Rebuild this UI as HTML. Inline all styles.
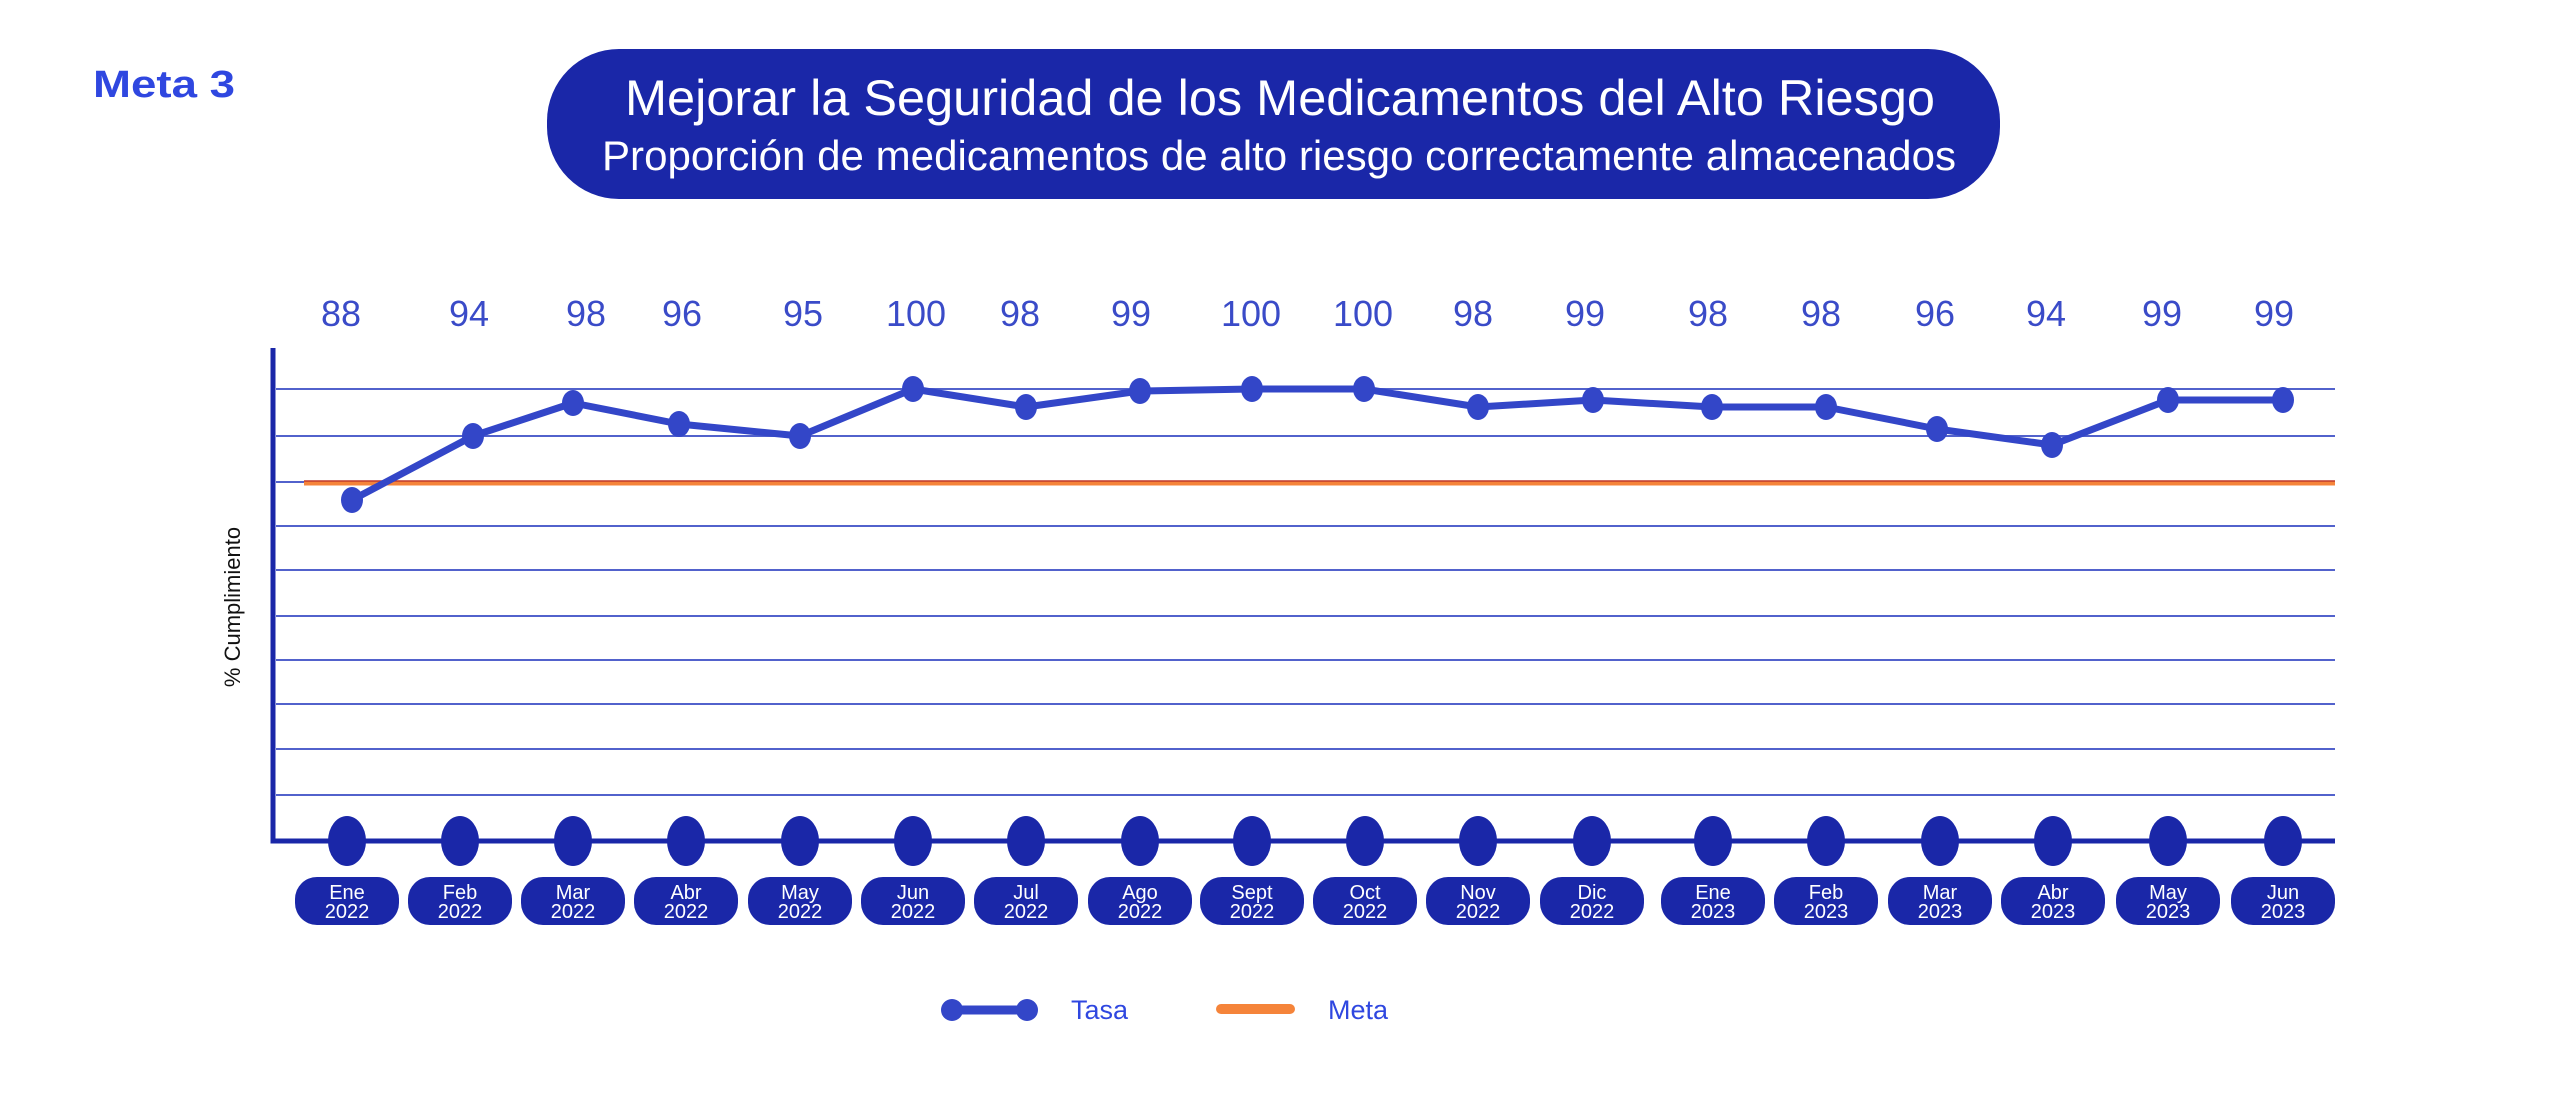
<!DOCTYPE html>
<html><head><meta charset="utf-8"><style>
html,body{margin:0;padding:0;background:#fff;}
svg{display:block;}
text{font-family:"Liberation Sans",sans-serif;}
</style></head><body>
<svg width="2560" height="1104" viewBox="0 0 2560 1104" xmlns="http://www.w3.org/2000/svg">
<rect width="2560" height="1104" fill="#fff"/>
<text x="93" y="97" font-size="38" font-weight="bold" fill="#2f47e0" textLength="142" lengthAdjust="spacingAndGlyphs">Meta 3</text>
<rect x="547" y="49" width="1453" height="150" rx="72" fill="#1a27a8"/>
<text x="1280" y="115" font-size="50" fill="#fff" text-anchor="middle" textLength="1310" lengthAdjust="spacingAndGlyphs">Mejorar la Seguridad de los Medicamentos del Alto Riesgo</text>
<text x="1279" y="170" font-size="42" fill="#fff" text-anchor="middle" textLength="1354" lengthAdjust="spacingAndGlyphs">Proporción de medicamentos de alto riesgo correctamente almacenados</text>
<g stroke="#5262cc" stroke-width="2">
<line x1="276" y1="389" x2="2335" y2="389"/><line x1="276" y1="436" x2="2335" y2="436"/>
<line x1="276" y1="482" x2="2335" y2="482"/><line x1="276" y1="526" x2="2335" y2="526"/>
<line x1="276" y1="570" x2="2335" y2="570"/><line x1="276" y1="616" x2="2335" y2="616"/>
<line x1="276" y1="660" x2="2335" y2="660"/><line x1="276" y1="704" x2="2335" y2="704"/>
<line x1="276" y1="749" x2="2335" y2="749"/><line x1="276" y1="795" x2="2335" y2="795"/>
</g>
<line x1="304" y1="483" x2="2335" y2="483" stroke="#f5843a" stroke-width="5"/>
<line x1="304" y1="481" x2="2335" y2="481" stroke="#c0392b" stroke-width="1.5"/>
<path d="M273 348 V841 H2335" fill="none" stroke="#1a27a8" stroke-width="5"/>
<text transform="translate(240,607) rotate(-90)" font-size="22" fill="#111" text-anchor="middle">% Cumplimiento</text>
<g font-size="36" fill="#3a4bc8" text-anchor="middle">
<text x="341" y="326">88</text><text x="469" y="326">94</text><text x="586" y="326">98</text><text x="682" y="326">96</text><text x="803" y="326">95</text><text x="916" y="326">100</text><text x="1020" y="326">98</text><text x="1131" y="326">99</text><text x="1251" y="326">100</text><text x="1363" y="326">100</text><text x="1473" y="326">98</text><text x="1585" y="326">99</text><text x="1708" y="326">98</text><text x="1821" y="326">98</text><text x="1935" y="326">96</text><text x="2046" y="326">94</text><text x="2162" y="326">99</text><text x="2274" y="326">99</text>
</g>
<polyline fill="none" stroke="#3346c8" stroke-width="7" stroke-linejoin="round" points="352,500 473,436 573,403 679,424 800,436 913,389 1026,407 1140,391 1252,389 1364,389 1478,407 1593,400 1712,407 1826,407 1937,429 2052,445 2168,400 2283,400"/>
<g fill="#3346c8">
<ellipse cx="352" cy="500" rx="11" ry="13"/><ellipse cx="473" cy="436" rx="11" ry="13"/><ellipse cx="573" cy="403" rx="11" ry="13"/><ellipse cx="679" cy="424" rx="11" ry="13"/><ellipse cx="800" cy="436" rx="11" ry="13"/><ellipse cx="913" cy="389" rx="11" ry="13"/><ellipse cx="1026" cy="407" rx="11" ry="13"/><ellipse cx="1140" cy="391" rx="11" ry="13"/><ellipse cx="1252" cy="389" rx="11" ry="13"/><ellipse cx="1364" cy="389" rx="11" ry="13"/><ellipse cx="1478" cy="407" rx="11" ry="13"/><ellipse cx="1593" cy="400" rx="11" ry="13"/><ellipse cx="1712" cy="407" rx="11" ry="13"/><ellipse cx="1826" cy="407" rx="11" ry="13"/><ellipse cx="1937" cy="429" rx="11" ry="13"/><ellipse cx="2052" cy="445" rx="11" ry="13"/><ellipse cx="2168" cy="400" rx="11" ry="13"/><ellipse cx="2283" cy="400" rx="11" ry="13"/>
</g>
<g fill="#1a27a8">
<ellipse cx="347" cy="841" rx="19" ry="25"/><ellipse cx="460" cy="841" rx="19" ry="25"/><ellipse cx="573" cy="841" rx="19" ry="25"/><ellipse cx="686" cy="841" rx="19" ry="25"/><ellipse cx="800" cy="841" rx="19" ry="25"/><ellipse cx="913" cy="841" rx="19" ry="25"/><ellipse cx="1026" cy="841" rx="19" ry="25"/><ellipse cx="1140" cy="841" rx="19" ry="25"/><ellipse cx="1252" cy="841" rx="19" ry="25"/><ellipse cx="1365" cy="841" rx="19" ry="25"/><ellipse cx="1478" cy="841" rx="19" ry="25"/><ellipse cx="1592" cy="841" rx="19" ry="25"/><ellipse cx="1713" cy="841" rx="19" ry="25"/><ellipse cx="1826" cy="841" rx="19" ry="25"/><ellipse cx="1940" cy="841" rx="19" ry="25"/><ellipse cx="2053" cy="841" rx="19" ry="25"/><ellipse cx="2168" cy="841" rx="19" ry="25"/><ellipse cx="2283" cy="841" rx="19" ry="25"/>
</g>
<g fill="#1a27a8">
<rect x="295" y="877" width="104" height="48" rx="22"/><rect x="408" y="877" width="104" height="48" rx="22"/><rect x="521" y="877" width="104" height="48" rx="22"/><rect x="634" y="877" width="104" height="48" rx="22"/><rect x="748" y="877" width="104" height="48" rx="22"/><rect x="861" y="877" width="104" height="48" rx="22"/><rect x="974" y="877" width="104" height="48" rx="22"/><rect x="1088" y="877" width="104" height="48" rx="22"/><rect x="1200" y="877" width="104" height="48" rx="22"/><rect x="1313" y="877" width="104" height="48" rx="22"/><rect x="1426" y="877" width="104" height="48" rx="22"/><rect x="1540" y="877" width="104" height="48" rx="22"/><rect x="1661" y="877" width="104" height="48" rx="22"/><rect x="1774" y="877" width="104" height="48" rx="22"/><rect x="1888" y="877" width="104" height="48" rx="22"/><rect x="2001" y="877" width="104" height="48" rx="22"/><rect x="2116" y="877" width="104" height="48" rx="22"/><rect x="2231" y="877" width="104" height="48" rx="22"/>
</g>
<g font-size="20" fill="#fff" text-anchor="middle">
<text x="347" y="899">Ene</text><text x="347" y="918">2022</text>
<text x="460" y="899">Feb</text><text x="460" y="918">2022</text>
<text x="573" y="899">Mar</text><text x="573" y="918">2022</text>
<text x="686" y="899">Abr</text><text x="686" y="918">2022</text>
<text x="800" y="899">May</text><text x="800" y="918">2022</text>
<text x="913" y="899">Jun</text><text x="913" y="918">2022</text>
<text x="1026" y="899">Jul</text><text x="1026" y="918">2022</text>
<text x="1140" y="899">Ago</text><text x="1140" y="918">2022</text>
<text x="1252" y="899">Sept</text><text x="1252" y="918">2022</text>
<text x="1365" y="899">Oct</text><text x="1365" y="918">2022</text>
<text x="1478" y="899">Nov</text><text x="1478" y="918">2022</text>
<text x="1592" y="899">Dic</text><text x="1592" y="918">2022</text>
<text x="1713" y="899">Ene</text><text x="1713" y="918">2023</text>
<text x="1826" y="899">Feb</text><text x="1826" y="918">2023</text>
<text x="1940" y="899">Mar</text><text x="1940" y="918">2023</text>
<text x="2053" y="899">Abr</text><text x="2053" y="918">2023</text>
<text x="2168" y="899">May</text><text x="2168" y="918">2023</text>
<text x="2283" y="899">Jun</text><text x="2283" y="918">2023</text>
</g>
<line x1="952" y1="1010" x2="1027" y2="1010" stroke="#3346c8" stroke-width="9"/>
<circle cx="952" cy="1010" r="11" fill="#3346c8"/><circle cx="1027" cy="1010" r="11" fill="#3346c8"/>
<text x="1071" y="1019" font-size="27" fill="#2f47e0">Tasa</text>
<line x1="1221" y1="1009" x2="1290" y2="1009" stroke="#f5843a" stroke-width="10" stroke-linecap="round"/>
<text x="1328" y="1019" font-size="27" fill="#2f47e0">Meta</text>
</svg>
</body></html>
